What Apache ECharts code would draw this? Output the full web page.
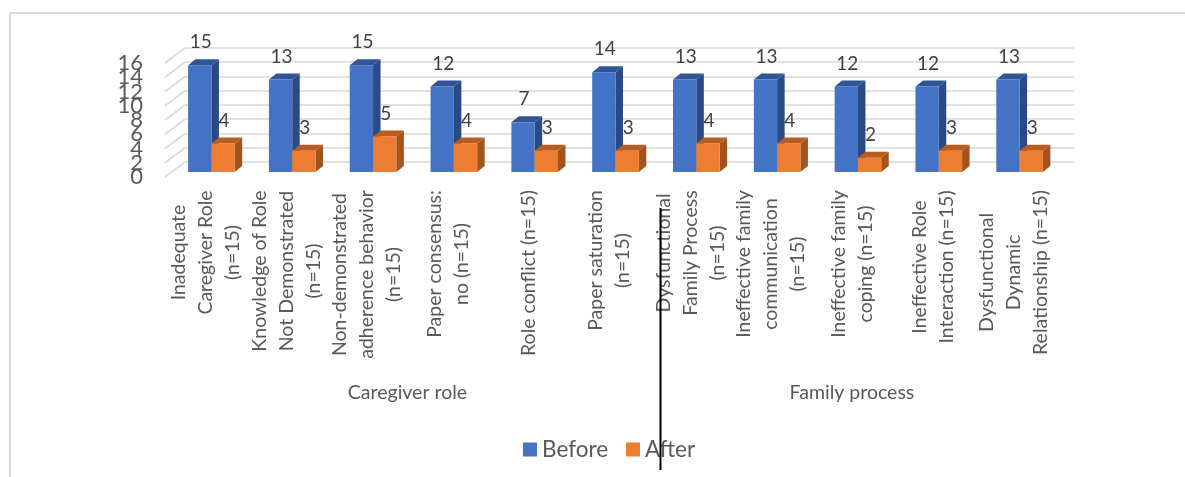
<!DOCTYPE html>
<html><head><meta charset="utf-8">
<style>html,body{margin:0;padding:0;background:#fff}#c{width:1185px;height:477px}</style>
<script src="https://cdn.jsdelivr.net/npm/echarts@6/dist/echarts.min.js"></script>
</head><body><div id="c"></div>
<script>
const categories = [
  "Inadequate\nCaregiver Role\n(n=15)",
  "Knowledge of Role\nNot Demonstrated\n(n=15)",
  "Non-demonstrated\nadherence behavior\n(n=15)",
  "Paper consensus:\nno (n=15)",
  "Role conflict (n=15)",
  "Paper saturation\n(n=15)",
  "Dysfunctional\nFamily Process\n(n=15)",
  "Ineffective family\ncommunication\n(n=15)",
  "Ineffective family\ncoping (n=15)",
  "Ineffective Role\nInteraction (n=15)",
  "Dysfunctional\nDynamic\nRelationship (n=15)"
];
const before = [15, 13, 15, 12, 7, 14, 13, 13, 12, 12, 13];
const after = [4, 3, 5, 4, 3, 3, 4, 4, 2, 3, 3];
const groupNames = ["Caregiver role", "Family process"];
const groupStart = [0, 6];
const groupEnd = [5, 10];
const yTicks = [0, 2, 4, 6, 8, 10, 12, 14, 16];

const FONT = 'Lato, "Open Sans", sans-serif';
const CAT_SIZE = 19.5;
const ctx = document.createElement('canvas').getContext('2d');
ctx.font = CAT_SIZE + 'px Lato';
const blockWidth = c => Math.ceil(Math.max(...c.split('\n').map(s => ctx.measureText(s).width)));
const rich = {};
categories.forEach((c, i) => {
  rich['r' + i] = {width: blockWidth(c), align: 'center', fontFamily: FONT, fontSize: CAT_SIZE, color: '#595959', lineHeight: 27};
});

const chart = echarts.init(document.getElementById('c'), null, {renderer: 'canvas'});
const DX = 20, DY = -15;
const BAR_W = 23.3, SIDE_X = 7.5, SIDE_Y = -6, BAR_SHIFT_X = 6, BAR_SHIFT_Y = -5;

function barSeries(name, values, front, side, top, side2) {
  const blue = side2 === 0;
  return {
    type: 'custom', name, xAxisIndex: 0, yAxisIndex: 0,
    itemStyle: {color: front},
    data: values.map((v, i) => [i, v]),
    renderItem(params, api) {
      const base = api.coord([api.value(0), 0]);
      const tip = api.coord([api.value(0), api.value(1)]);
      const x0 = base[0] + BAR_SHIFT_X + (blue ? -BAR_W : 0);
      const x1 = x0 + BAR_W;
      const yb = base[1] + BAR_SHIFT_Y;
      const yt = tip[1] + BAR_SHIFT_Y;
      const z = blue ? 1 : 2;
      return {type: 'group', children: [
        {type: 'polygon', z2: z, shape: {points: [[x1, yb], [x1 + SIDE_X, yb + SIDE_Y], [x1 + SIDE_X, yt + SIDE_Y], [x1, yt]]}, style: {fill: side}},
        {type: 'polygon', z2: z, shape: {points: [[x0, yt], [x0 + SIDE_X, yt + SIDE_Y], [x1 + SIDE_X, yt + SIDE_Y], [x1, yt]]}, style: {fill: top}},
        {type: 'rect', z2: z, shape: {x: x0, y: yt, width: BAR_W, height: yb - yt}, style: {fill: front}},
        {type: 'text', z2: blue ? 3 : 0, style: {text: String(api.value(1)), x: (x0 + x1) / 2 + 1, y: yt - 23, align: 'center', verticalAlign: 'middle', fontFamily: FONT, fontSize: 19, fill: '#404040'}}
      ]};
    }
  };
}

chart.setOption({
  animation: false,
  backgroundColor: '#fff',
  grid: [
    {left: 165, width: 889, top: 63, height: 114, containLabel: false},
    {left: 185, width: 889, top: 48, height: 113.7, containLabel: false}
  ],
  xAxis: [
    {type: 'category', gridIndex: 0, data: categories,
     axisLine: {show: false}, axisTick: {show: false}, splitLine: {show: false},
     axisLabel: {interval: 0, rotate: 90, margin: 13, align: 'right', verticalAlign: 'middle',
       formatter: (v) => { const i = categories.indexOf(v); return v.split('\n').map(s => '{r' + i + '|' + s + '}').join('\n'); },
       rich}},
    {type: 'category', gridIndex: 1, data: categories, axisLine: {show: false}, axisTick: {show: false}, axisLabel: {show: false}, splitLine: {show: false}}
  ],
  yAxis: [
    {type: 'value', gridIndex: 0, min: 0, max: 16, interval: 2,
     axisLine: {show: false}, axisTick: {show: false}, splitLine: {show: false},
     axisLabel: {show: false}},
    {type: 'value', gridIndex: 1, min: 0, max: 16, interval: 2,
     axisLine: {show: false}, axisTick: {show: false}, axisLabel: {show: false},
     splitLine: {show: true, lineStyle: {color: '#d9d9d9', width: 1.6}}}
  ],
  legend: {
    data: ['Before', 'After'], left: 518, top: 433, itemGap: 18, itemWidth: 14, itemHeight: 14, icon: 'rect',
    textStyle: {fontFamily: FONT, fontSize: 22.5, color: '#595959'}
  },
  series: [
    {type: 'custom', silent: true, xAxisIndex: 0, yAxisIndex: 0,
     data: yTicks.map(t => [t]), encode: {y: 0},
     renderItem(params, api) {
       const p = api.coord([0, api.value(0)]);
       const x = params.coordSys.x;
       return {type: 'group', children: [
         {type: 'line', z2: -1, shape: {x1: x, y1: p[1], x2: x + DX, y2: p[1] + DY}, style: {stroke: '#d9d9d9', lineWidth: 1.6}},
         {type: 'text', style: {text: String(api.value(0)), x: x - 22, y: p[1], align: 'right', verticalAlign: 'middle', fontFamily: FONT, fontSize: 22, fill: '#595959'}}
       ]};
     }},
    barSeries('Before', before, '#4472c4', '#2a4a85', '#2f5597', 0),
    barSeries('After', after, '#ed7d31', '#a3541c', '#b85d1f', 1),
    {type: 'custom', silent: true, xAxisIndex: 0, yAxisIndex: 0,
     data: groupNames.map((n, i) => [groupStart[i], groupEnd[i], n]),
     encode: {x: [0, 1]},
     renderItem(params, api) {
       const a = api.coord([api.value(0), 0]), b = api.coord([api.value(1), 0]);
       return {type: 'text', style: {text: groupNames[params.dataIndex], x: (a[0] + b[0]) / 2, y: 393, align: 'center', verticalAlign: 'middle', fontFamily: FONT, fontSize: 19.5, fill: '#595959'}};
     }}
  ],
  graphic: [
    {type: 'line', silent: true, z: 100, shape: {x1: 10, y1: 13, x2: 10, y2: 477}, style: {stroke: '#d9d9d9', lineWidth: 2}},
    {type: 'line', silent: true, z: 100, shape: {x1: 10, y1: 13, x2: 1185, y2: 13}, style: {stroke: '#d9d9d9', lineWidth: 2}},
    {type: 'line', silent: true, z: 100, shape: {x1: 660.5, y1: 208, x2: 660.5, y2: 470}, style: {stroke: '#000', lineWidth: 2}}
  ]
});
</script></body></html>
